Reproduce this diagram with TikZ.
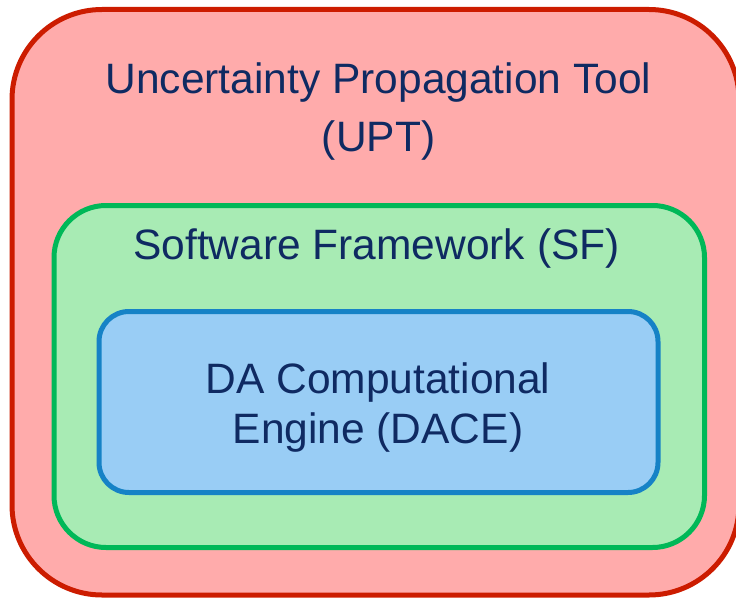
\documentclass[tikz,border=0pt]{standalone}
\usepackage{fontspec}
\setmainfont{Liberation Sans}
\definecolor{redfill}{HTML}{FFABAB}
\definecolor{redline}{HTML}{CC1C00}
\definecolor{greenfill}{HTML}{A8EBB4}
\definecolor{greenline}{HTML}{00B858}
\definecolor{bluefill}{HTML}{99CDF5}
\definecolor{blueline}{HTML}{1682C6}
\definecolor{txt}{HTML}{0F2A62}
\tikzset{
  label text/.style={anchor=base, inner sep=0pt, text=txt, font=\fontsize{42.5}{50}\selectfont},
}
\begin{document}
\begin{tikzpicture}[x=1pt,y=-1pt]
\useasboundingbox (0,0) rectangle (736,599);
\draw[fill=redfill, draw=redline, line width=5pt, rounded corners=90pt] (12,9.5) rectangle (739,595);
\draw[fill=greenfill, draw=greenline, line width=5pt, rounded corners=52pt] (54,205.5) rectangle (704.5,547.5);
\draw[fill=bluefill, draw=blueline, line width=5pt, rounded corners=30pt] (99,311.5) rectangle (658,492.5);
\node[label text] (upt1) at (378.5,94) {Uncertainty Propagation Tool};
\node[label text] (upt2) at (378.5,152) {(UPT)};
\node[label text] (sf) at (376.5,259.5) {Software Framework (SF)};
\node[label text] (dace1) at (378,393.5) {DA Computational};
\node[label text] (dace2) at (378,443.5) {Engine (DACE)};
\end{tikzpicture}
\end{document}
